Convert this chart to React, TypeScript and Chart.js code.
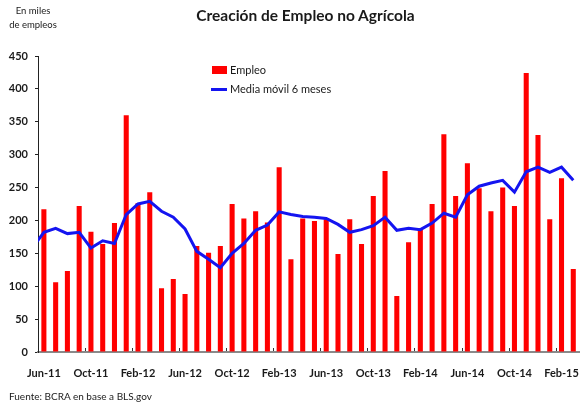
import React, { useEffect, useRef } from "react";
import { Chart, registerables } from "chart.js";

Chart.register(...registerables);

const meses: string[] = [
  "Jun-11", "Jul-11", "Aug-11", "Sep-11", "Oct-11", "Nov-11", "Dec-11", "Jan-12",
  "Feb-12", "Mar-12", "Apr-12", "May-12", "Jun-12", "Jul-12", "Aug-12", "Sep-12",
  "Oct-12", "Nov-12", "Dec-12", "Jan-13", "Feb-13", "Mar-13", "Apr-13", "May-13",
  "Jun-13", "Jul-13", "Aug-13", "Sep-13", "Oct-13", "Nov-13", "Dec-13", "Jan-14",
  "Feb-14", "Mar-14", "Apr-14", "May-14", "Jun-14", "Jul-14", "Aug-14", "Sep-14",
  "Oct-14", "Nov-14", "Dec-14", "Jan-15", "Feb-15", "Mar-15",
];

const empleo: number[] = [
  217, 106, 123, 222, 183, 164, 196, 360, 226, 243,
  97, 111, 88, 161, 151, 161, 225, 203, 214, 197,
  281, 141, 203, 199, 202, 149, 202, 164, 237, 275,
  85, 167, 188, 225, 331, 237, 287, 249, 214, 250,
  222, 424, 330, 202, 264, 126,
];

// moving average of the month before Jun-11 (only its segment toward Jun-11 is visible)
const mediaMovilPrevia = 158;

const mediaMovil: number[] = [
  182, 188, 180, 182, 158, 169, 165, 209, 225, 229,
  214, 205, 187, 153, 141, 128, 150, 165, 185, 193,
  213, 209, 206, 205, 203, 194, 182, 186, 192, 205,
  185, 188, 186, 196, 211, 205, 239, 252, 257, 261,
  243, 274, 281, 273, 281, 261,
];

const etiquetasIdx: number[] = [0, 4, 8, 12, 16, 20, 24, 28, 32, 36, 40, 44];
const yTicks: number[] = [0, 50, 100, 150, 200, 250, 300, 350, 400, 450];

const FONT = "Lato, 'Open Sans', sans-serif";

const innerTicks = {
  id: "innerTicks",
  afterDraw(chart: any) {
    const x = chart.scales.x;
    const area = chart.chartArea;
    const ctx = chart.ctx;
    ctx.save();
    ctx.strokeStyle = "#333";
    ctx.lineWidth = 1;
    ctx.beginPath();
    etiquetasIdx.forEach((i) => {
      if (i === 0) return;
      const px = Math.round(x.getPixelForValue(i - 0.5)) + 0.5;
      ctx.moveTo(px, area.bottom - 1);
      ctx.lineTo(px, area.bottom - 4);
    });
    ctx.stroke();
    ctx.restore();
  },
};

export default function App() {
  const ref = useRef<HTMLCanvasElement>(null);

  useEffect(() => {
    if (!ref.current) return;
    const chart = new Chart(ref.current, {
      type: "bar",
      data: {
        datasets: [
          {
            type: "line",
            label: "Media móvil 6 meses",
            data: [{ x: -1, y: mediaMovilPrevia }, ...mediaMovil.map((y, i) => ({ x: i, y }))],
            borderColor: "#1414f0",
            backgroundColor: "#1414f0",
            borderWidth: 3,
            pointRadius: 0,
            tension: 0,
            order: 0,
            clip: { left: 0, right: 0, top: false, bottom: false },
          } as any,
          {
            type: "bar",
            label: "Empleo",
            data: empleo.map((y, i) => ({ x: i, y })),
            backgroundColor: "#ff0000",
            borderWidth: 0,
            categoryPercentage: 1,
            barPercentage: 0.43,
            order: 1,
          } as any,
        ],
      },
      options: {
        responsive: false,
        animation: false,
        layout: { padding: { left: 0, top: 56, right: 4, bottom: 0 } },
        plugins: {
          legend: { display: false },
          tooltip: { enabled: false },
          title: { display: false },
        },
        scales: {
          x: {
            type: "linear",
            offset: false,
            min: -0.5,
            max: 45.5,
            grid: { display: false, offset: false },
            border: { display: true, color: "#8a8a8a", width: 2 },
            afterBuildTicks: (scale: any) => {
              scale.ticks = etiquetasIdx.map((v) => ({ value: v }));
            },
            afterFit: (scale: any) => {
              scale.height = 52;
            },
            ticks: {
              autoSkip: false,
              maxRotation: 0,
              padding: 7,
              color: "#1a1a1a",
              font: { family: FONT, size: 11, weight: "bold" },
              callback: (v: any) => meses[v as number] ?? "",
            },
          },
          y: {
            type: "linear",
            min: 0,
            max: 450,
            grid: { drawOnChartArea: false, tickLength: 3, color: "#222" },
            border: { display: true, color: "#222", width: 1 },
            afterBuildTicks: (scale: any) => {
              scale.ticks = yTicks.map((v) => ({ value: v }));
            },
            afterFit: (scale: any) => {
              scale.width = 38;
            },
            ticks: {
              padding: 7,
              color: "#1a1a1a",
              font: { family: FONT, size: 11, weight: "bold" },
            },
          },
        },
      },
      plugins: [innerTicks],
    });
    return () => chart.destroy();
  }, []);

  const txt: React.CSSProperties = { position: "absolute", fontFamily: FONT, color: "#1a1a1a", whiteSpace: "nowrap" };

  return (
    <div style={{ position: "fixed", left: 0, top: 0, width: 586, height: 404, background: "#fff", overflow: "hidden" }}>
      <canvas ref={ref} width={586} height={404} style={{ position: "absolute", left: 0, top: 0 }} />
      <div style={{ ...txt, left: 0, width: 66, top: 4, fontSize: 9.5, lineHeight: "14px", textAlign: "center" }}>
        En miles<br />de empleos
      </div>
      <div style={{ ...txt, left: 0, width: 611, top: 6, fontSize: 15.5, fontWeight: "bold", textAlign: "center" }}>
        Creación de Empleo no Agrícola
      </div>
      <div style={{ ...txt, left: 212, top: 66, width: 15, height: 8, background: "#ff0000" }} />
      <div style={{ ...txt, left: 230, top: 63, fontSize: 11 }}>Empleo</div>
      <div style={{ ...txt, left: 211, top: 88, width: 16, height: 3, background: "#1414f0" }} />
      <div style={{ ...txt, left: 230, top: 82, fontSize: 11 }}>Media móvil 6 meses</div>
      <div style={{ ...txt, left: 9, top: 390, fontSize: 10 }}>Fuente: BCRA en base a BLS.gov</div>
    </div>
  );
}
